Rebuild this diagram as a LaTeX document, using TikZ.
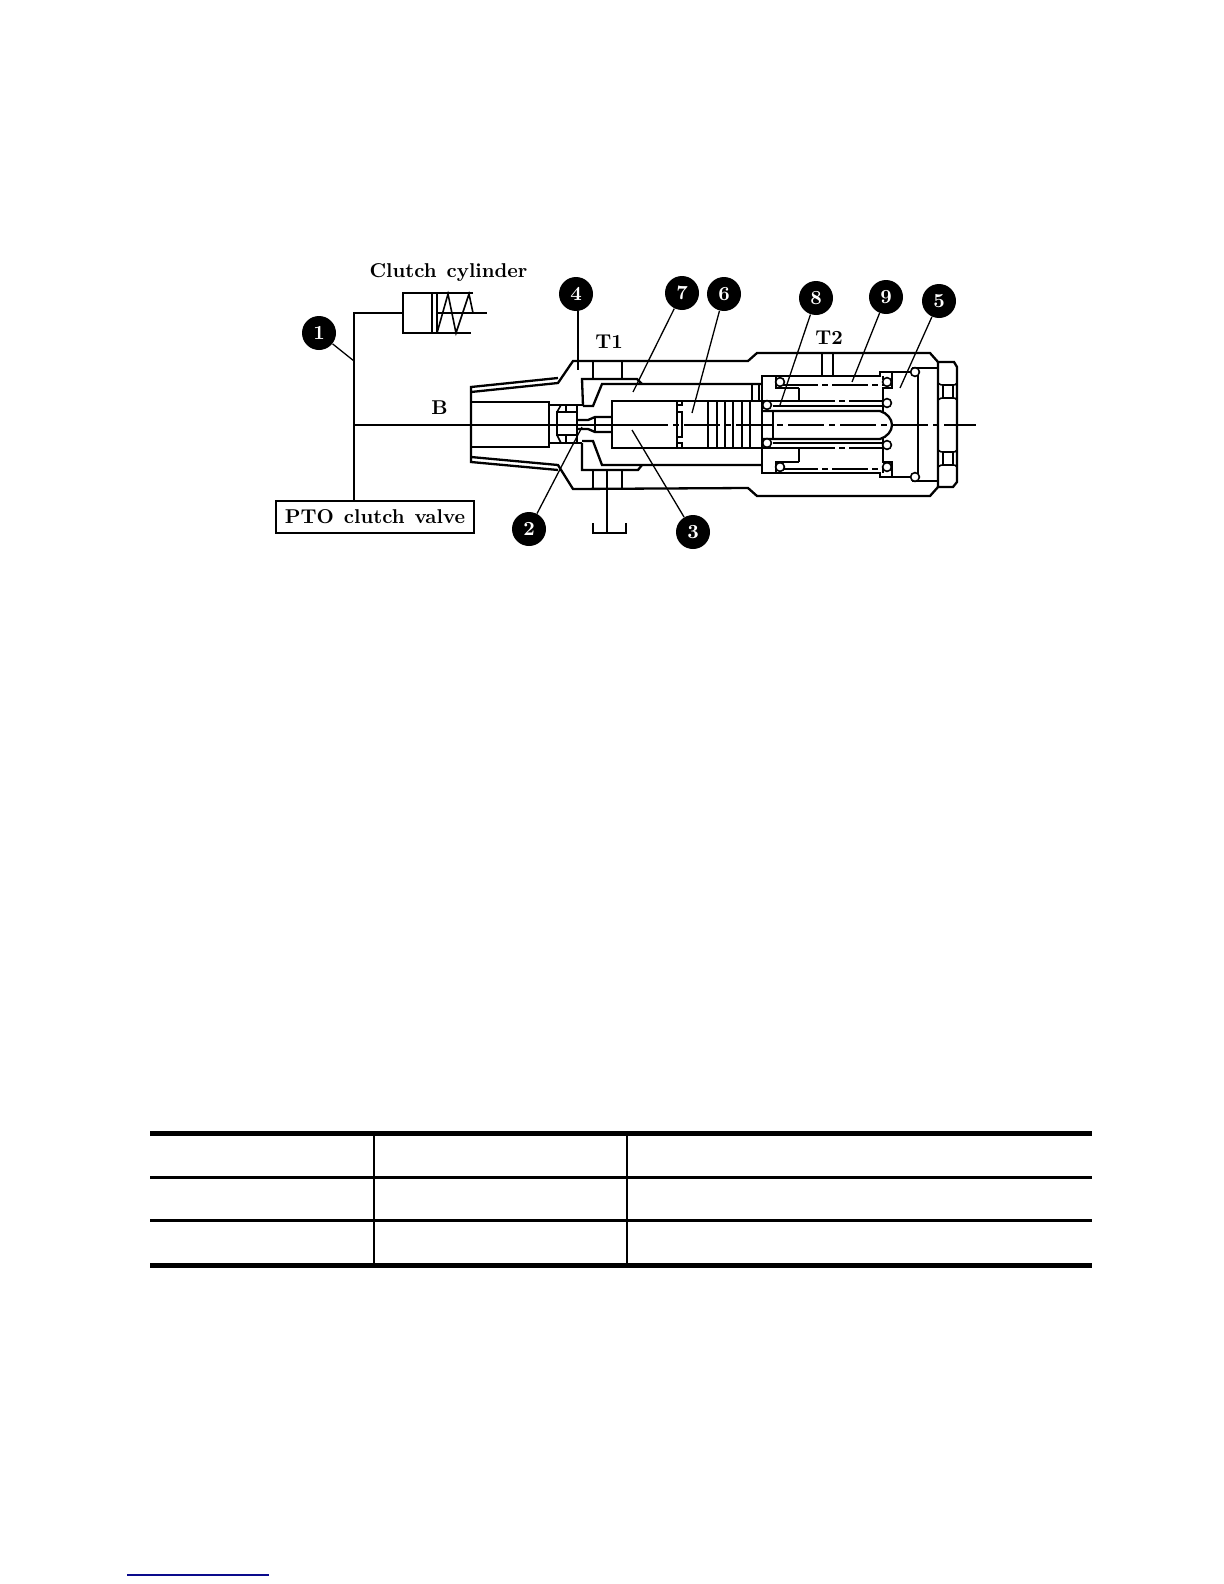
\documentclass[tikz,border=0pt]{standalone}
\usepackage{graphicx}
\tikzset{
  ln/.style={line width=1.15pt,line join=miter,line cap=butt},
  lt/.style={line width=0.8pt},
  leader/.style={line width=0.65pt},
  ctr/.style={line width=0.9pt,dash pattern=on 18pt off 2.5pt on 3pt off 2.5pt},
  ball/.style={circle,fill=black,minimum size=17pt,inner sep=0pt,text=white,font=\fontsize{10}{10}\selectfont\bfseries},
  lbl/.style={inner sep=0pt,font=\fontsize{10}{11}\selectfont\bfseries},
  coil/.style={circle,draw=black,line width=0.8pt,fill=white,minimum size=4.4pt,inner sep=0pt},
  thick rule/.style={line width=2.5pt},
  mid rule/.style={line width=1.5pt},
  cell rule/.style={line width=1pt}
}
\begin{document}
\begin{tikzpicture}[x=0.5pt,y=-0.5pt]
\useasboundingbox (0,0) rectangle (1224,1584);
% ---- cylinder
\node[lbl] (cyl) at (448.5,273) {\scalebox{1.0}[1]{Clutch\hspace{0.5em}cylinder}};
\draw[ln] (473,293) -- (403,293) -- (403,333) -- (471,333);
\draw[ln] (432,293) -- (432,333) (437,293) -- (437,333);
\draw[lt] (437,333) -- (448,294) -- (456,333) -- (469,294) -- (473,313);
\coordinate (rodend) at (487,313);
\coordinate (cylport) at (403,313);
\coordinate (tee) at (354,425);
\node[draw,line width=1.15pt,minimum width=99pt,minimum height=16pt,inner sep=0pt,font=\fontsize{10}{11}\selectfont\bfseries] (pto) at (375,517) {PTO\hspace{0.5em}clutch\hspace{0.5em}valve};
\draw[ln] (cylport) -- (354,313) -- (pto.north -| 354,0);
\draw[ln] (437,313) -- (rodend);
% ---- centre line
\coordinate (axisend) at (976,425);
\draw[ln] (tee) -- (632,425);
\draw[ctr] (632,425) -- (axisend);
% ---- body outline
\draw[ln] (558,378) -- (471,387) -- (471,462) -- (558,470);
\draw[ln] (471,392) -- (558,383) -- (573,361) -- (748,361) -- (757,353) -- (930,353) -- (938,362);
\draw[ln] (471,457) -- (558,465) -- (573,489) -- (748,488) -- (757,496) -- (930,496) -- (938,487);
% bore
\draw[ln] (549,402) rectangle (471,447);
\draw[ln] (549,405) -- (583,405) (549,443) -- (582,443);
% T1 ports and tank
\draw[ln] (593,361) -- (593,379) (622,361) -- (622,379);
\draw[ln] (593,470) -- (593,489) (622,470) -- (622,489);
\draw[ln] (607,470) -- (607,533);
\draw[ln] (593,523) -- (593,533) -- (626,533) -- (626,523);
% pockets
\draw[ln] (583,406) -- (582,379) -- (637,379) -- (642,384);
\draw[ln] (583,406) -- (593,406) -- (602,384) -- (762,384);
\draw[ln] (582,443) -- (582,470) -- (638,470) -- (642,465);
\draw[ln] (582,441) -- (593,441) -- (602,465) -- (762,465);
% seat element
\draw[ln] (578,412) -- (557,412) -- (557,435) -- (578,435);
\draw[lt] (557,412) -- (561,405) (557,435) -- (561,443);
\draw[lt] (566,405) -- (566,412) (566,435) -- (566,443);
\draw[ln] (577,405) -- (577,443);
% nozzle
\draw[ln] (577,420) -- (588,420) -- (595,417) -- (612,417);
\draw[ln] (577,429) -- (588,429) -- (595,432) -- (612,432);
\draw[ln] (595,417) -- (595,432);
% spool
\draw[ln] (799,388) -- (799,401) -- (612,401) -- (612,448) -- (799,448) -- (799,462);
\draw[ln] (677,401) -- (677,448);
\draw[lt] (682,401) -- (682,405) -- (677,405) (677,412) -- (682,412) -- (682,437) -- (677,437) (677,443) -- (682,443) -- (682,448);
\draw[ln] (708,401) -- (708,448);
\foreach \xx in {717,725,733,742,750} \draw[lt] (\xx,401) -- (\xx,448);
\draw[lt] (752,385) -- (752,401) (759,385) -- (759,401);
% sleeve
\draw[ln] (762,401) -- (762,376) -- (880,376) -- (880,372) -- (918,372);
\draw[ln] (776,376) -- (776,388) -- (799,388);
\draw[ln] (762,448) -- (762,473) -- (880,473) -- (880,477) -- (918,477);
\draw[ln] (776,473) -- (776,462) -- (799,462);
\draw[ln] (762,401) -- (762,448);
\draw[ln] (773,411) -- (773,439);
\draw[ln] (762,411) -- (880,411) .. controls (887,413) and (892,419) .. (892,425) .. controls (892,431) and (887,437) .. (880,439) -- (762,439);
\draw[lt] (773,406) -- (883,406) (773,443) -- (883,443);
\draw[lt,dash pattern=on 18pt off 2pt on 3pt off 2pt] (799,401) -- (883,401) (799,448) -- (883,448);
\draw[lt,dash pattern=on 18pt off 2pt on 3pt off 2pt] (782,385) -- (884,385) (782,469) -- (884,469);
% cap: stepped face, open towards the bullet tip
\draw[ln] (892,372) -- (892,388) -- (883,388) -- (883,412);
\draw[ln] (892,477) -- (892,462) -- (883,462) -- (883,438);
\draw[ln] (883,376) -- (883,380) (883,470) -- (883,473);
\draw[ln] (918,368) -- (938,368) (918,481) -- (938,481);
\draw[ln] (918,368) -- (918,481);
\draw[lt] (912,368) -- (918,368) (912,481) -- (918,481);
% coils
\foreach \cx/\cy/\nm in {780/382/c1,887/382/c2,767/405/c3,767/443/c4,887/403/c5,887/445/c6,780/467/c7,887/467/c8,915/372/c9,915/477/c10}
  \node[coil] (\nm) at (\cx,\cy) {};
% T2 port
\draw[ln] (822,353) -- (822,376) (833,353) -- (833,376);
% nut
\draw[ln] (938,362) -- (954,362) -- (957,367) -- (957,482) -- (953,487) -- (938,487) -- cycle;
\draw[lt] (938,383) .. controls (941,385) .. (943,385) -- (953,385) .. controls (955,385) .. (957,383);
\draw[lt] (938,400) .. controls (941,398) .. (943,398) -- (953,398) .. controls (955,398) .. (957,400);
\draw[lt] (938,450) .. controls (941,452) .. (943,452) -- (953,452) .. controls (955,452) .. (957,450);
\draw[lt] (938,467) .. controls (941,465) .. (943,465) -- (953,465) .. controls (955,465) .. (957,467);
\draw[lt] (943,385) -- (943,398) (953,385) -- (953,398) (943,452) -- (943,465) (953,452) -- (953,465);
% ---- labels
\node[lbl] (b) at (439.5,408) {B};
\node[lbl] (t1) at (609,342) {T1};
\node[lbl] (t2) at (829,338) {T2};
% ---- balloons
\node[ball] (n1) at (319,333) {1};
\node[ball] (n2) at (529,529) {2};
\node[ball] (n3) at (693,532) {3};
\node[ball] (n4) at (576,294) {4};
\node[ball] (n5) at (939,301) {5};
\node[ball] (n6) at (724,294) {6};
\node[ball] (n7) at (682,293) {7};
\node[ball] (n8) at (816,298) {8};
\node[ball] (n9) at (886,297) {9};
\coordinate (p1) at (354,361);
\coordinate (b1) at (344,353);
\coordinate (p2) at (582,427);
\coordinate (p3) at (632,430);
\coordinate (p4) at (578,370);
\coordinate (p5) at (900,388);
\coordinate (p6) at (692,413);
\coordinate (p7) at (633,392);
\coordinate (p8) at (780,405);
\coordinate (p9) at (852,382);
\draw[leader] (n1) -- (b1) -- (p1);
\draw[leader] (n2) -- (p2);
\draw[leader] (n3) -- (p3);
\draw[leader] (n4.south -| p4) -- (p4);
\draw[leader] (n5) -- (p5);
\draw[leader] (n6) -- (p6);
\draw[leader] (n7) -- (p7);
\draw[leader] (n8) -- (p8);
\draw[leader] (n9) -- (p9);
% ---- table
\draw[thick rule] (150,1133) -- (1092,1133);
\draw[mid rule] (150,1177) -- (1092,1177);
\draw[mid rule] (150,1220) -- (1092,1220);
\draw[thick rule] (150,1265) -- (1092,1265);
\draw[cell rule] (374,1133) -- (374,1265) (627,1133) -- (627,1265);
% ---- footnote rule
\draw[line width=0.8pt,color={rgb,255:red,10;green,10;blue,140}] (127,1575) -- (269,1575);
\end{tikzpicture}
\end{document}
